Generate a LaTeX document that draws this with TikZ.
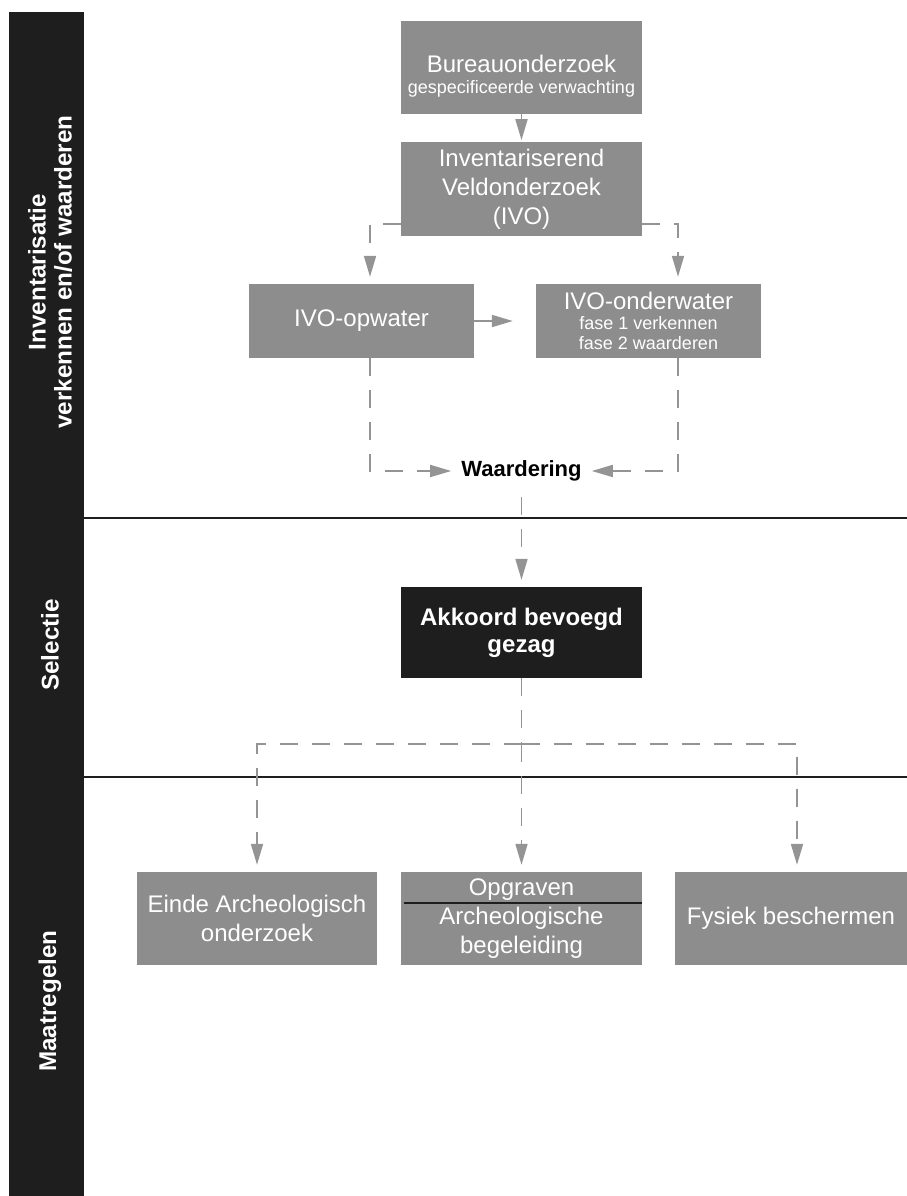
\documentclass[tikz,border=0pt]{standalone}
\usepackage{fontspec}
\setmainfont{Liberation Sans}
\usetikzlibrary{arrows.meta, positioning}
\definecolor{vakgrijs}{RGB}{141,141,141}
\definecolor{lijngrijs}{RGB}{148,148,148}
\definecolor{balkzwart}{RGB}{30,30,30}
\tikzset{vak/.style={fill=vakgrijs, text=white, align=center, inner sep=0pt,
    minimum width=241pt, font=\fontsize{24}{29}\selectfont},
  stippel/.style={draw=lijngrijs, line width=1.8pt, dash pattern=on 18pt off 14pt},
  pijl/.style={stippel, -{Triangle[length=21pt, width=12pt]}, shorten >=7pt},
  fasetekst/.style={rotate=90, text=white, align=center,
    font=\bfseries\fontsize{24.2}{26}\selectfont},
  scheidingslijn/.style={draw=balkzwart, line width=2.2pt}}

\begin{document}
\begin{tikzpicture}[x=1pt, y=-1pt]
                    \useasboundingbox (0,0) rectangle (907,1196);
                    %Black band with the three phases:
                        \fill[balkzwart] (9,12) rectangle (84,1196);
                        \draw[scheidingslijn] (84,518) -- (907,518);
                        \draw[scheidingslijn] (84,777) -- (907,777);
                        \node[fasetekst] (inventarisatie) at (50,272) {Inventarisatie\\verkennen en/of waarderen};
                        \node[fasetekst] (selectie) at (50,645) {Selectie};
                        \node[fasetekst] (maatregelen) at (50,1001) {Maatregelen};
                    %Define coordinates for the dashed branches:
                    \coordinate (tak) at (0,224);
                    \coordinate (links) at (370,0);
                    \coordinate (rechts) at (678,0);
                    \coordinate (verdeel) at (521.5,744);
                    %Boxes of the first phase:
                        \node[vak, minimum height=93pt, font=\fontsize{18}{21}\selectfont] (bureau) at (521.5,67.5)
                            {{\fontsize{24}{24}\selectfont\rule{0pt}{35pt}Bureauonderzoek}\\gespecificeerde verwachting};
                        \node[vak, minimum height=94pt, below=28pt of bureau] (inventar) {Inventariserend\\Veldonderzoek\\(IVO)};
                        \node[vak, minimum width=225pt, minimum height=74pt] (opwater) at (361.5,321) {IVO-opwater};
                        \node[vak, minimum width=225pt, minimum height=74pt, font=\fontsize{18}{20}\selectfont] (onderwater) at (648.5,321)
                            {{\fontsize{24}{24}\selectfont IVO-onderwater}\\fase 1 verkennen\\fase 2 waarderen};
                        \node[inner xsep=10pt, font=\bfseries\fontsize{22}{26}\selectfont] (waardering) at (521.5,471) {Waardering};
                    %Box of the selection:
                        \node[vak, fill=balkzwart, minimum height=91pt, font=\bfseries\fontsize{24}{27}\selectfont] (akkoord) at (521.5,632.5)
                            {Akkoord bevoegd\\gezag};
                    %Boxes of the measures:
                        \node[vak, minimum width=240pt, minimum height=93pt] (einde) at (257,918.5) {Einde Archeologisch\\onderzoek};
                        \node[vak, minimum height=93pt] (opgraven) at (521.5,918.5) {Opgraven\\Archeologische\\begeleiding};
                        \node[vak, minimum width=232pt, minimum height=93pt] (fysiek) at (791,918.5) {Fysiek beschermen};
                        \draw[draw=balkzwart, line width=1.8pt] ([xshift=3pt, yshift=15.5pt]opgraven.west) -- ([yshift=15.5pt]opgraven.east);
                    %Connectors of the first phase:
                        \draw[pijl, shorten >=2pt] (bureau) -- (inventar);
                        \draw[pijl] (inventar.west |- tak) -| (links |- opwater.north);
                        \draw[pijl] (inventar.east |- tak) -| (rechts |- onderwater.north);
                        \draw[pijl, shorten >=23pt] (opwater) -- (onderwater);
                        \draw[pijl, shorten >=0pt] (links |- opwater.south) |- (waardering.west);
                        \draw[pijl, shorten >=0pt] (rechts |- onderwater.south) |- (waardering.east);
                    %Connectors to the measures:
                        \draw[pijl, shorten <=12pt] (waardering) -- (akkoord);
                        \draw[stippel] (akkoord.south) -- (verdeel);
                        \draw[pijl] (verdeel) -| (einde.north);
                        \draw[pijl] (verdeel) -- (opgraven.north);
                        \draw[pijl] (verdeel) -| ([xshift=6pt]fysiek.north);
                \end{tikzpicture}
\end{document}
